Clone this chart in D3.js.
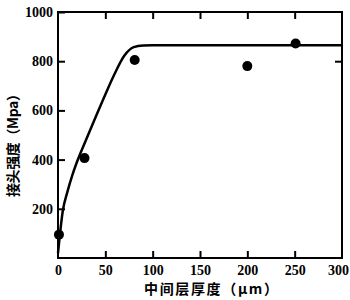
<!DOCTYPE html>
<html><head><meta charset="utf-8">
<script src="https://cdn.jsdelivr.net/npm/d3@7"></script>
<style>body{margin:0;background:#fff}</style>
</head><body>
<script>
const xTicks = [0, 50, 100, 150, 200, 250, 300];
const yTicks = [200, 400, 600, 800, 1000];
const pointX = [1, 28, 81, 200, 251];
const pointY = [95, 406, 805, 780, 872];
const curveX = [0, 2, 5, 10, 15, 20, 25, 30, 40, 50, 60, 70, 80, 90, 100, 150, 300];
const curveY = [20, 95, 190, 270, 335, 390, 438, 484, 575, 665, 750, 822, 857, 864, 865, 865, 865];
const xLabel = "中间层厚度（μm）";
const yLabel = "接头强度（Mpa）";

(function () {
const W = 350, H = 300;
const m = {l: 58, r: 8, t: 12, b: 42};
const svg = d3.select("body").append("svg").attr("width", W).attr("height", H);
const x = d3.scaleLinear().domain([0, 300]).range([m.l, W - m.r]);
const y = d3.scaleLinear().domain([0, 1000]).range([H - m.b, m.t]);

const numFont = "'Liberation Serif', serif";
const tick = 7;
svg.append("rect").attr("x", x(0)).attr("y", y(1000)).attr("width", x(300) - x(0)).attr("height", y(0) - y(1000))
  .attr("fill", "none").attr("stroke", "#000").attr("stroke-width", 2);

const g = svg.append("g");
const axB = g.append("g").attr("transform", `translate(0,${y(0)})`)
  .call(d3.axisBottom(x).tickValues(xTicks).tickSize(-tick).tickPadding(7).tickFormat(d3.format("d")));
const axT = g.append("g").attr("transform", `translate(0,${y(1000)})`)
  .call(d3.axisTop(x).tickValues(xTicks.slice(1, -1)).tickSize(-tick).tickFormat(""));
const axL = g.append("g").attr("transform", `translate(${x(0)},0)`)
  .call(d3.axisLeft(y).tickValues(yTicks).tickSize(-tick).tickPadding(5).tickFormat(d3.format("d")));
const axR = g.append("g").attr("transform", `translate(${x(300)},0)`)
  .call(d3.axisRight(y).tickValues([800]).tickSize(-tick).tickFormat(""));
[axB, axT, axL, axR].forEach(a => {
  a.select(".domain").remove();
  a.selectAll("line").attr("stroke", "#000").attr("stroke-width", 2);
  a.selectAll("text").attr("font-family", numFont).attr("font-weight", "bold").attr("font-size", 14).attr("fill", "#000");
});
axB.selectAll(".tick line").filter(d => d === 0 || d === 300).remove();
axB.selectAll(".tick text").filter(d => d === 300).attr("dx", -4);

const line = d3.line().x(d => x(d[0])).y(d => y(d[1])).curve(d3.curveMonotoneX);
svg.append("path").datum(d3.zip(curveX, curveY)).attr("d", line)
  .attr("fill", "none").attr("stroke", "#000").attr("stroke-width", 2.5);

svg.selectAll("circle.pt").data(d3.zip(pointX, pointY)).enter().append("circle")
  .attr("cx", d => x(d[0])).attr("cy", d => y(d[1])).attr("r", 5).attr("fill", "#000");

const cjk = "'Noto Sans CJK SC', sans-serif";
svg.append("text").attr("x", 211).attr("y", 294).attr("text-anchor", "middle")
  .attr("font-family", cjk).attr("font-weight", "bold").attr("font-size", 14)
  .attr("textLength", 134).attr("lengthAdjust", "spacing").text(xLabel);
svg.append("text").attr("transform", "translate(18,142) rotate(-90)").attr("text-anchor", "middle")
  .attr("font-family", cjk).attr("font-weight", "bold").attr("font-size", 14)
  .attr("textLength", 110).attr("lengthAdjust", "spacing").text(yLabel);
})();
</script>
</body></html>
